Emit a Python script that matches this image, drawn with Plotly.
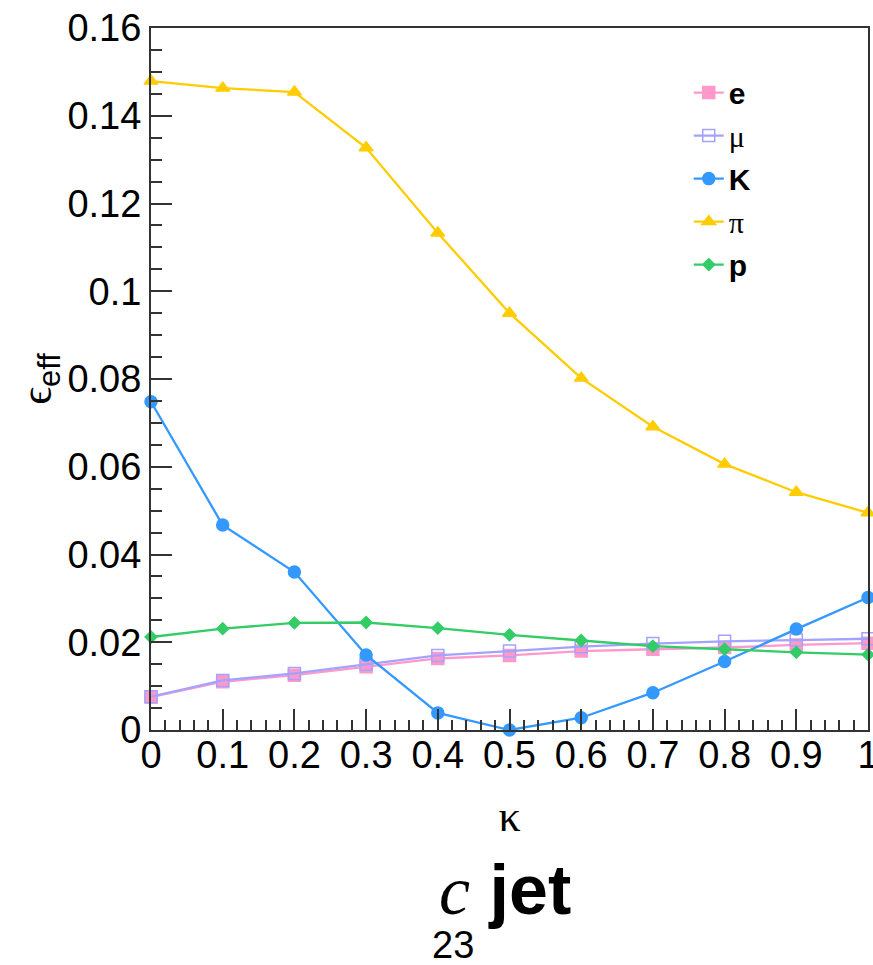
import plotly.graph_objects as go

kappa = [0.0, 0.1, 0.2, 0.3, 0.4, 0.5, 0.6, 0.7, 0.8, 0.9, 1.0]
x_ticktext = ["0", "0.1", "0.2", "0.3", "0.4", "0.5", "0.6", "0.7", "0.8", "0.9", "1"]
y_tickvals = [0, 0.02, 0.04, 0.06, 0.08, 0.1, 0.12, 0.14, 0.16]
y_ticktext = ["0", "0.02", "0.04", "0.06", "0.08", "0.1", "0.12", "0.14", "0.16"]

eff_e = [0.0075, 0.0110, 0.0125, 0.0144, 0.0163, 0.0170, 0.0180, 0.0184, 0.0188, 0.0194, 0.0198]
eff_mu = [0.0076, 0.0113, 0.0129, 0.0150, 0.0170, 0.0180, 0.0190, 0.0197, 0.0202, 0.0205, 0.0208]
eff_K = [0.0748, 0.0467, 0.0360, 0.0171, 0.0039, 0.0000, 0.0028, 0.0085, 0.0156, 0.0230, 0.0302]
eff_pi = [0.1479, 0.1463, 0.1454, 0.1327, 0.1133, 0.0950, 0.0802, 0.0691, 0.0606, 0.0542, 0.0495]
eff_p = [0.0212, 0.0231, 0.0244, 0.0245, 0.0232, 0.0217, 0.0204, 0.0191, 0.0184, 0.0177, 0.0172]

series = [
    ("<b>e</b>", eff_e, "#ff99cc", "square", 12),
    ("<span style='font-family:Liberation Serif'>μ</span>", eff_mu, "#a3a3ff", "square-open", 12),
    ("<b>K</b>", eff_K, "#3399ff", "circle", 12),
    ("<span style='font-family:Liberation Serif'>π</span>", eff_pi, "#ffcc00", "triangle-up", 12),
    ("<b>p</b>", eff_p, "#33cc66", "diamond", 9),
]

fig = go.Figure()
for i, (name, vals, col, sym, sz) in enumerate(series):
    fig.add_trace(go.Scatter(
        x=kappa, y=vals, name=name, mode="lines+markers",
        line=dict(color=col, width=2.3),
        marker=dict(symbol=sym, size=sz, color=col, line=dict(color=col, width=1.5)),
        cliponaxis=False, legendgroup=str(i),
    ))

axis_common = dict(
    showgrid=False, zeroline=False, showline=True, linecolor="#333333", linewidth=2,
    mirror=True, ticks="inside", tickcolor="#333333", tickwidth=1.5,
    tickfont=dict(family="Liberation Sans", size=38, color="black"),
    ticklabeloverflow="allow", automargin=False,
)

fig.update_layout(
    width=873, height=965,
    margin=dict(l=151, r=5, t=28, b=235),
    paper_bgcolor="white", plot_bgcolor="white",
    showlegend=True,
    legend=dict(x=0.750, y=0.945, xanchor="left", yanchor="top",
                font=dict(family="Liberation Sans", size=30, color="black"),
                bgcolor="rgba(0,0,0,0)", tracegroupgap=1, itemwidth=30),
    xaxis=dict(range=[0, 1], ticklen=21, tickvals=kappa, ticktext=x_ticktext,
               ticklabelstandoff=-10,
               minor=dict(dtick=0.02, ticklen=10, ticks="inside", tickcolor="#333333", tickwidth=1.5),
               title=dict(text="κ", font=dict(family="Liberation Serif", size=44, color="black"), standoff=26),
               **axis_common),
    yaxis=dict(range=[0, 0.16], ticklen=21, tickvals=y_tickvals, ticktext=y_ticktext,
               minor=dict(dtick=0.005, ticklen=11, ticks="inside", tickcolor="#333333", tickwidth=1.5),
               title=dict(text="ϵ<sub><span style='font-family:Liberation Sans'>eff</span></sub>",
                          font=dict(family="Liberation Serif", size=44, color="black"), standoff=2),
               **axis_common),
    annotations=[
        dict(text="<span style='font-family:Liberation Serif;font-size:70px'><i>c</i></span> <b>jet</b>",
             xref="paper", yref="paper", x=0.494, y=-0.228, xanchor="center", yanchor="middle",
             showarrow=False, font=dict(family="Liberation Sans", size=70, color="black")),
        dict(text="23", xref="paper", yref="paper", x=0.421, y=-0.306, xanchor="center", yanchor="middle",
             showarrow=False, font=dict(family="Liberation Sans", size=38, color="black")),
    ],
)

fig.write_html("out.html")
